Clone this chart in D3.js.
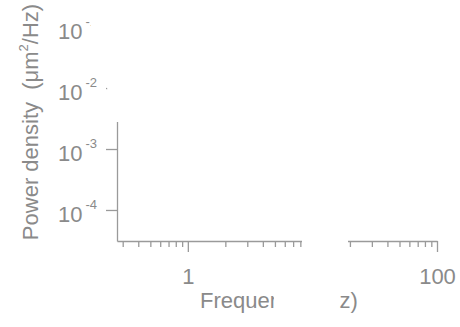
<!DOCTYPE html>
<html>
<head>
<meta charset="utf-8">
<script src="https://cdn.jsdelivr.net/npm/d3@7"></script>
<style>
  body { margin: 0; background: #fff; }
  text { font-family: "Liberation Sans", Arial, sans-serif; fill: #8a8a8a; white-space: pre; }
</style>
</head>
<body>
<svg width="460" height="327"></svg>
<script>
(function (d3) {
	'use strict';

	// axis data (log-log power spectrum, no visible series)
	const xDomain = [0.27, 100];
	const yDomain = [3.1e-5, 0.23];
	const xMajorTicks = [1, 10, 100];
	const xMinorTicks = [0.3, 0.4, 0.5, 0.6, 0.7, 0.8, 0.9,
		2, 3, 4, 5, 6, 7, 8, 9,
		20, 30, 40, 50, 60, 70, 80, 90];
	const yTicks = [1e-4, 1e-3, 1e-2, 1e-1];
	const yExponents = ['-4', '-3', '-2', '-1'];
	const xLabel = 'Frequency  (Hz)';

	const svg = d3.select('svg');
	const axisColor = '#9a9a9a';

	const x = d3.scaleLog().domain(xDomain).range([117, 437]);
	const y = d3.scaleLog().domain(yDomain).range([241, 5]);

	// x axis: minor ticks, then major ticks with labels
	svg.append('g')
		.attr('transform', 'translate(0, 241)')
		.call(d3.axisBottom(x).tickValues(xMinorTicks).tickSize(6).tickSizeOuter(0).tickFormat(''));

	const xMajorG = svg.append('g')
		.attr('transform', 'translate(0, 241)')
		.call(d3.axisBottom(x).tickValues(xMajorTicks).tickSize(11).tickSizeOuter(0)
			.tickPadding(16).tickFormat(d3.format('d')));
	xMajorG.select('.domain').remove();
	xMajorG.selectAll('text')
		.attr('font-size', 22)
		.attr('font-family', null)
		.attr('fill', null);

	// y axis
	svg.append('g')
		.attr('transform', 'translate(117, 0)')
		.call(d3.axisLeft(y).tickValues(yTicks).tickSize(11).tickSizeOuter(0).tickFormat(''));

	svg.selectAll('.domain, .tick line')
		.attr('stroke', axisColor)
		.attr('stroke-width', 1.3);

	// y tick labels as 10 with superscript exponent
	const yLab = svg.append('g').selectAll('text')
		.data(yTicks)
		.join('text')
			.attr('x', 97)
			.attr('y', d => y(d) + 12)
			.attr('text-anchor', 'end')
			.attr('font-size', 22);
	yLab.append('tspan').text('10');
	yLab.append('tspan')
		.attr('font-size', 13)
		.attr('dx', 3)
		.attr('dy', -13)
		.text((d, i) => yExponents[i]);

	// axis titles
	svg.append('text')
		.attr('x', 200)
		.attr('y', 308)
		.attr('font-size', 22)
		.text(xLabel);

	const yTitle = svg.append('text')
		.attr('transform', 'translate(38, 122) rotate(-90)')
		.attr('text-anchor', 'middle')
		.attr('font-size', 22);
	yTitle.append('tspan').text('Power density  (μm');
	yTitle.append('tspan').attr('font-size', 13).attr('dy', -10).text('2');
	yTitle.append('tspan').attr('dy', 10).text('/Hz)');

	// blank patches that cut through the reference picture
	const masks = [
		[[84, 0], [460, 0], [460, 122], [116, 122]],
		[[302, 226], [348, 226], [348, 255], [339, 285], [339, 327], [274, 327], [274, 285], [302, 255]]
	];
	svg.append('g').selectAll('polygon')
		.data(masks)
		.join('polygon')
			.attr('points', d => d.join(' '))
			.attr('fill', '#fff');

}(d3));
</script>
</body>
</html>
